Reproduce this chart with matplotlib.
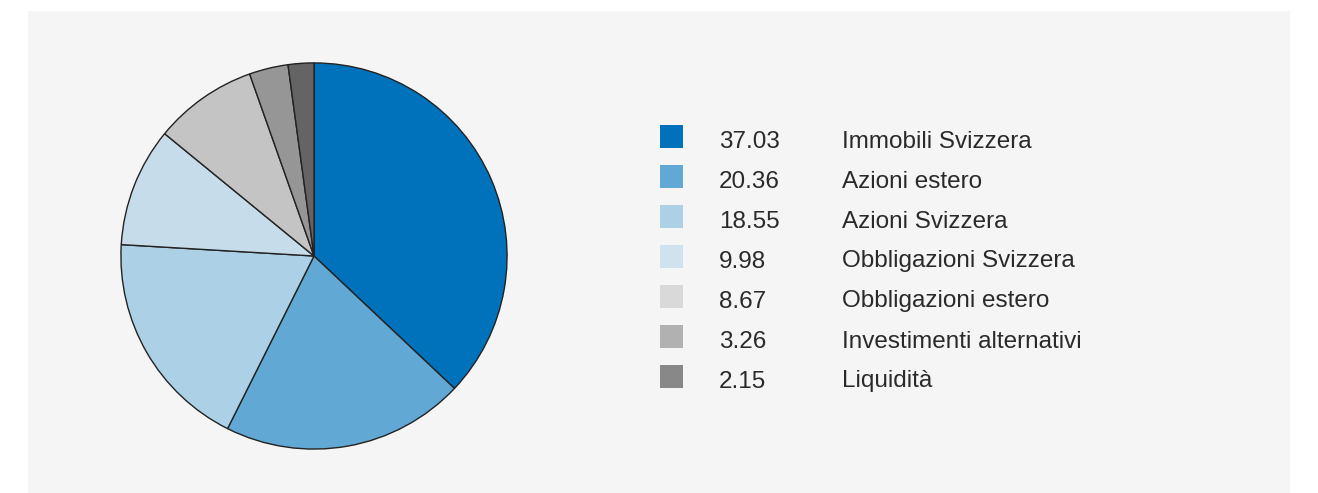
import matplotlib
matplotlib.use("Agg")
import matplotlib.pyplot as plt
from matplotlib.patches import Rectangle

values = [37.03, 20.36, 18.55, 9.98, 8.67, 3.26, 2.15]
value_labels = ["37.03", "20.36", "18.55", "9.98", "8.67", "3.26", "2.15"]
categories = ["Immobili Svizzera", "Azioni estero", "Azioni Svizzera",
              "Obbligazioni Svizzera", "Obbligazioni estero",
              "Investimenti alternativi", "Liquidità"]
pie_colors = ["#0072bb", "#62a8d4", "#acd0e6", "#c6dcea", "#c4c4c4", "#969696", "#646464"]
legend_colors = ["#0072bb", "#62a8d4", "#acd0e6", "#cfe2ee", "#d9d9d9", "#b1b1b1", "#888888"]

W, H = 1318, 493
fig = plt.figure(figsize=(W / 100, H / 100), dpi=100)
fig.patch.set_facecolor("white")

# overlay axes in pixel coordinates
bg = fig.add_axes([0, 0, 1, 1])
bg.set_xlim(0, W)
bg.set_ylim(H, 0)
bg.axis("off")
bg.add_patch(Rectangle((28, 11), 1262, H - 11, facecolor="#f5f5f5", edgecolor="none"))

# pie
cx, cy, r = 314, 256, 195
ax = fig.add_axes([(cx - r) / W, (H - cy - r) / H, 2 * r / W, 2 * r / H])
ax.pie(values, colors=pie_colors, startangle=90, counterclock=False,
       wedgeprops=dict(edgecolor="#222222", linewidth=1.0))
ax.set_xlim(-1.01, 1.01)
ax.set_ylim(-1.01, 1.01)
ax.set_aspect("equal")
ax.axis("off")

# legend
lg = fig.add_axes([0, 0, 1, 1])
lg.set_xlim(0, W)
lg.set_ylim(H, 0)
lg.axis("off")
lg.patch.set_alpha(0)
for i, (v, c, col) in enumerate(zip(value_labels, categories, legend_colors)):
    y0 = 125 + 40 * i
    lg.add_patch(Rectangle((660, y0), 23, 23, facecolor=col, edgecolor="none"))
    base = y0 + 22.5
    lg.text(719, base, v, fontsize=17.5, family="Liberation Sans", color="#2a2a2a", va="baseline", ha="left")
    lg.text(842, base, c, fontsize=17.5, family="Liberation Sans", color="#2a2a2a", va="baseline", ha="left")

fig.savefig("out.png", dpi=100, facecolor="white")
